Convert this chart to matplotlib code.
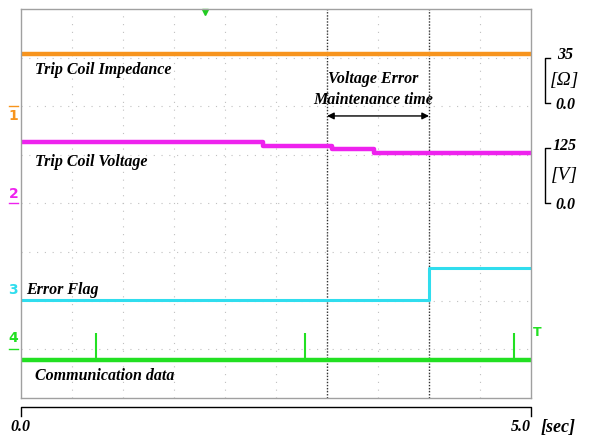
import numpy as np
import matplotlib
matplotlib.use('Agg')
import matplotlib.pyplot as plt

# values in screen divisions (0 = bottom of screen, 8 = top), time in sec
imp_level = 7.08

volt_times = [0.0, 2.37, 3.05, 3.46]
volt_levels = [5.27, 5.19, 5.12, 5.04]

flag_times = [0.0, 4.0]
flag_levels = [2.02, 2.67]

comm_level = 0.78
comm_spikes = [0.74, 2.78, 4.83]
comm_spike_top = 1.34

t_start, t_end = 0.0, 5.0
mark_times = [3.0, 4.0]

font = dict(family='Liberation Serif', weight='bold', style='italic')

fig = plt.figure(figsize=(5.97, 4.36), dpi=100)
ax = fig.add_axes([0.0352, 0.0872, 0.8543, 0.8922])
ax.set_xlim(t_start, t_end)
ax.set_ylim(0, 8)
ax.set_xticks([])
ax.set_yticks([])
for s in ax.spines.values():
    s.set_color('#a0a0a0')
    s.set_linewidth(1.0)

# scope grid
for gx in np.arange(0.5, 5.0, 0.5):
    ax.axvline(gx, color='#c0c0c0', lw=0.8, ls=(0, (1, 6)), zorder=0)
for gy in range(1, 8):
    ax.axhline(gy, color='#c0c0c0', lw=0.8, ls=(0, (1, 6)), zorder=0)

# traces
ax.plot([t_start, t_end], [imp_level, imp_level], color='#F7941D', lw=3.2)
ax.step(volt_times + [t_end], volt_levels + [volt_levels[-1]], where='post',
        color='#EE22EE', lw=3.2)
ax.step(flag_times + [t_end], flag_levels + [flag_levels[-1]], where='post',
        color='#30DDEE', lw=2.2)
ax.plot([t_start, t_end], [comm_level, comm_level], color='#22E022', lw=3.2)
ax.vlines(comm_spikes, comm_level, comm_spike_top, color='#22E022', lw=1.5)

# markers of the error window
for mt in mark_times:
    ax.axvline(mt, color='#333333', lw=1.0, ls=(0, (1, 1.2)), zorder=1)
ax.annotate('', xy=(mark_times[0], 5.8), xytext=(mark_times[1], 5.8),
            arrowprops=dict(arrowstyle='<|-|>', color='black', lw=1.0,
                            mutation_scale=10, shrinkA=0, shrinkB=0))
ax.text(3.45, 6.55, 'Voltage Error', ha='center', va='center', fontsize=11.5, **font)
ax.text(3.45, 6.12, 'Maintenance time', ha='center', va='center', fontsize=11.5, **font)

# trace labels
ax.text(0.14, 6.75, 'Trip Coil Impedance', va='center', fontsize=11.5, **font)
ax.text(0.14, 4.85, 'Trip Coil Voltage', va='center', fontsize=11.5, **font)
ax.text(0.05, 2.23, 'Error Flag', va='center', fontsize=11.5, **font)
ax.text(0.14, 0.45, 'Communication data', va='center', fontsize=11.5, **font)

# channel markers
chans = [('1', 5.8, 6.0, '#F7941D'), ('2', 4.2, 4.0, '#EE22EE'),
         ('3', 2.23, None, '#30DDEE'), ('4', 1.23, 1.0, '#22E022')]
for lab, ty, dy, c in chans:
    ax.text(-0.075, ty, lab, ha='center', va='center', fontsize=10,
            color=c, fontweight='bold', clip_on=False)
    if dy is not None:
        ax.plot([-0.12, -0.03], [dy, dy], color=c, lw=1, clip_on=False)
ax.text(5.06, 1.35, 'T', ha='center', va='center', fontsize=9,
        color='#22E022', fontweight='bold', clip_on=False)
ax.plot([1.80], [7.93], marker='v', color='#22CC22', ms=5, clip_on=False)

# scale brackets on the right
def bracket(y0, y1, top, unit, bottom):
    ax.plot([5.19, 5.137, 5.137, 5.19], [y1, y1, y0, y0], color='black',
            lw=1.0, clip_on=False)
    ax.text(5.33, y1 + 0.05, top, ha='center', va='center', fontsize=11.5,
            clip_on=False, **font)
    ax.text(5.33, (y0 + y1) / 2, unit, ha='center', va='center', fontsize=14,
            clip_on=False, family='Liberation Serif', style='italic')
    ax.text(5.34, y0 - 0.05, bottom, ha='center', va='center', fontsize=11.5,
            clip_on=False, **font)

bracket(6.07, 7.0, '35', '[Ω]', '0.0')
bracket(4.01, 5.14, '125', '[V]', '0.0')

# time axis below
ax.plot([t_start, t_start, t_end, t_end], [-0.37, -0.185, -0.185, -0.37],
        color='black', lw=1.0, clip_on=False)
ax.text(-0.1, -0.6, '0.0', ha='left', va='center', fontsize=11.5,
        clip_on=False, **font)
ax.text(4.9, -0.6, '5.0', ha='center', va='center', fontsize=11.5,
        clip_on=False, **font)
ax.text(5.26, -0.6, '[sec]', ha='center', va='center', fontsize=13,
        clip_on=False, family='Liberation Serif', style='italic', weight='bold')

fig.savefig('out.png', dpi=100)
